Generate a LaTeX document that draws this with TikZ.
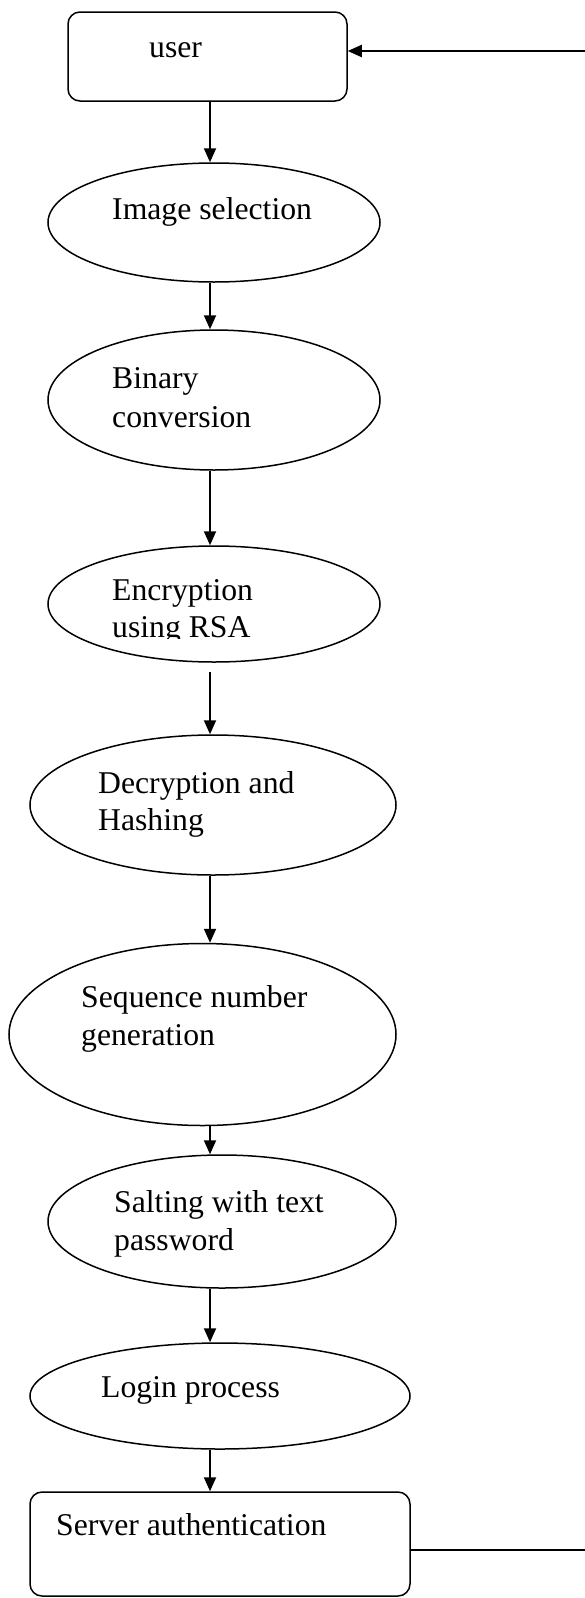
\documentclass[tikz,border=0pt]{standalone}
\usepackage{fontspec}
\setmainfont{Liberation Serif}
\usepackage{tikz}
\usetikzlibrary{shapes.geometric,arrows.meta}

\begin{document}
\begin{tikzpicture}[x=1pt, y=-1pt,
    every node/.style={font=\fontsize{31.7}{38}\selectfont},
    >={Triangle[length=14pt,width=12pt]},
    flow/.style={line width=2pt, ->},
    proc/.style={ellipse, draw, line width=1.5pt, inner sep=0pt},
    rbox/.style={rectangle, draw, line width=1.5pt, rounded corners=12pt, inner sep=0pt},
    txt/.style={anchor=base west, inner sep=0pt}]
  \useasboundingbox (0,0) rectangle (585,1598);

  % Start and end boxes
  \node[rbox, minimum width=279pt, minimum height=89pt] (user) at (207.5,56.5) {};
  \node[txt] (usertxt) at (149,57) {user};
  \node[rbox, minimum width=380pt, minimum height=104pt] (server) at (220,1544) {};
  \node[txt] (servertxt) at (56,1535) {Server authentication};

  % Process steps
  \node[proc, minimum width=332pt, minimum height=119pt] (img) at (214,222.5) {};
  \node[txt] (imgtxt) at (112,219) {Image selection};

  \node[proc, minimum width=332pt, minimum height=140pt] (bin) at (214,400) {};
  \node[txt] (bintxta) at (112,388) {Binary};
  \node[txt] (bintxtb) at (112,427) {conversion};

  \node[proc, minimum width=332pt, minimum height=116pt] (enc) at (214,604) {};
  \node[txt] (enctxta) at (112,600) {Encryption};
  \begin{scope}
    \clip (100,610) rectangle (400,638);
    \node[txt] (enctxtb) at (112,637) {using RSA};
  \end{scope}

  \node[proc, minimum width=366pt, minimum height=140pt] (dec) at (213,805) {};
  \node[txt] (dectxta) at (98,793) {Decryption and};
  \node[txt] (dectxtb) at (98,830) {Hashing};

  \node[proc, minimum width=387pt, minimum height=182pt] (seq) at (202.5,1034.5) {};
  \node[txt] (seqtxta) at (81,1007) {Sequence number};
  \node[txt] (seqtxtb) at (81,1045) {generation};

  \node[proc, minimum width=348pt, minimum height=133pt] (salt) at (222,1221.5) {};
  \node[txt] (salttxta) at (114,1212) {Salting with text};
  \node[txt] (salttxtb) at (114,1250) {password};

  \node[proc, minimum width=380pt, minimum height=106pt] (login) at (220,1396) {};
  \node[txt] (logintxt) at (101,1397) {Login process};

  % Downward flow
  \coordinate (col) at (210,0);
  \draw[flow] (user.south -| col) -- (img.north -| col);
  \draw[flow] (img.south -| col) -- (bin.north -| col);
  \draw[flow] (bin.south -| col) -- (enc.north -| col);
  \draw[flow, shorten <=9pt] (enc.south -| col) -- (dec.north -| col);
  \draw[flow] (dec.south -| col) -- (seq.north -| col);
  \draw[flow] (seq.south -| col) -- (salt.north -| col);
  \draw[flow] (salt.south -| col) -- (login.north -| col);
  \draw[flow] (login.south -| col) -- (server.north -| col);

  % Return lines at the right edge
  \coordinate (backtop) at (585,51);
  \coordinate (backbot) at (585,1550);
  \draw[flow] (backtop) -- (backtop -| user.east);
  \draw[line width=2pt] (server.east |- backbot) -- (backbot);
\end{tikzpicture}
\end{document}
